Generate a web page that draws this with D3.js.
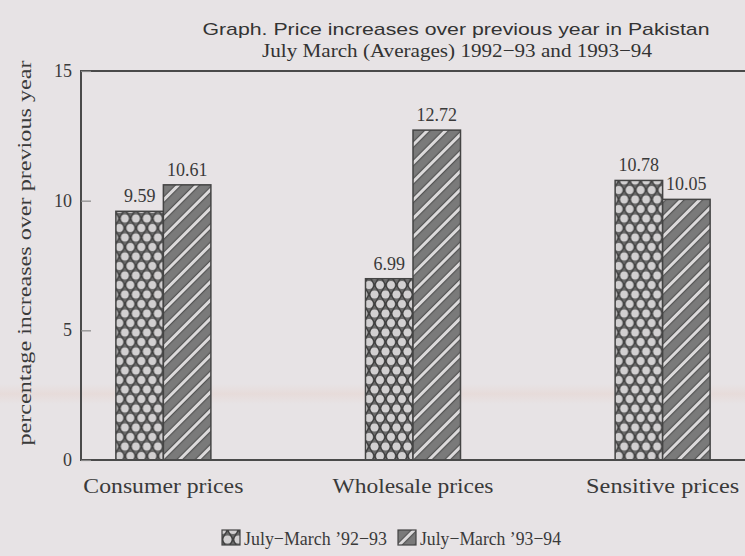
<!DOCTYPE html>
<html>
<head>
<meta charset="utf-8">
<script src="https://cdn.jsdelivr.net/npm/d3@7"></script>
<style>
  html, body { margin: 0; padding: 0; background: #e7e3e5; }
  svg { display: block; }
</style>
</head>
<body>
<svg id="chart" width="745" height="556"></svg>
<script>
// Price increases over previous year in Pakistan, July–March averages
const categories = ["Consumer prices", "Wholesale prices", "Sensitive prices"];
const series9293 = [9.59, 6.99, 10.78];
const series9394 = [10.61, 12.72, 10.05];
const seriesNames = ["July\u2212March \u201992\u221293", "July\u2212March \u201993\u221294"];
const yTicks = [0, 5, 10, 15];

const titleText = "Graph. Price increases over previous year in Pakistan";
const subtitleText = "July March (Averages) 1992\u221293 and 1993\u221294";
const yTitleText = "percentage increases over previous year";

const W = 745, H = 556;
const frame = { left: 81, top: 71, right: 745, bottom: 460 };
const serif = "'Liberation Serif', 'DejaVu Serif', serif";
const sans = "'Liberation Sans', Arial, sans-serif";
const ink = "#3a3a3a";

const svg = d3.select("#chart");

// ---- paper background with a faint tinted streak ----
svg.append("rect").attr("width", W).attr("height", H).attr("fill", "#e7e3e5");
const defs = svg.append("defs");
const streak = defs.append("linearGradient").attr("id", "streak")
  .attr("x1", 0).attr("x2", 0).attr("y1", 0).attr("y2", 1);
streak.append("stop").attr("offset", "0").attr("stop-color", "#e6c8bd").attr("stop-opacity", 0);
streak.append("stop").attr("offset", "0.5").attr("stop-color", "#e6c8bd").attr("stop-opacity", 0.28);
streak.append("stop").attr("offset", "1").attr("stop-color", "#e6c8bd").attr("stop-opacity", 0);
svg.append("rect").attr("x", 0).attr("y", 384).attr("width", W).attr("height", 20)
  .attr("fill", "url(#streak)");

// ---- fill patterns ----
// lattice of light dots between dark crossing lines, first series
const lattice = defs.append("pattern").attr("id", "lattice")
  .attr("patternUnits", "userSpaceOnUse").attr("width", 11).attr("height", 19);
lattice.append("rect").attr("width", 11).attr("height", 19).attr("fill", "#6a6a6a");
lattice.append("path")
  .attr("d", "M0,9.5L5.5,0L11,9.5L5.5,19Z")
  .attr("fill", "none").attr("stroke", "#3f3f3f").attr("stroke-width", 1.4);
[[0, 0], [11, 0], [0, 19], [11, 19], [5.5, 9.5]].forEach(([cx, cy]) =>
  lattice.append("circle").attr("cx", cx).attr("cy", cy).attr("r", 3.9).attr("fill", "#d2d0d1"));

// diagonal stripes for the second series
const stripes = defs.append("pattern").attr("id", "stripes")
  .attr("patternUnits", "userSpaceOnUse").attr("width", 13).attr("height", 13)
  .attr("patternTransform", "rotate(45)");
stripes.append("rect").attr("width", 13).attr("height", 13).attr("fill", "#7a7a7a");
stripes.append("rect").attr("x", 0).attr("width", 1.2).attr("height", 13).attr("fill", "#555");
stripes.append("rect").attr("x", 8.8).attr("width", 1.2).attr("height", 13).attr("fill", "#555");
stripes.append("rect").attr("x", 10).attr("width", 3).attr("height", 13).attr("fill", "#dcdadb");

const fills = ["url(#lattice)", "url(#stripes)"];

// ---- scales ----
const x = d3.scalePoint().domain(categories).range([frame.left, frame.right]).padding(0.33);
const sub = d3.scaleBand().domain([0, 1]).range([-47.5, 47.5]).padding(0);
const y = d3.scaleLinear().domain([0, 15]).range([frame.bottom, frame.top]);

// ---- titles ----
svg.append("text").attr("x", 456).attr("y", 35).attr("text-anchor", "middle")
  .attr("font-family", sans).attr("font-size", 17).attr("fill", "#333")
  .attr("textLength", 507).attr("lengthAdjust", "spacingAndGlyphs")
  .text(titleText);
svg.append("text").attr("x", 457).attr("y", 57).attr("text-anchor", "middle")
  .attr("font-family", serif).attr("font-size", 19).attr("fill", "#333")
  .attr("textLength", 390).attr("lengthAdjust", "spacingAndGlyphs")
  .text(subtitleText);

// ---- bars ----
const rows = categories.map((c, i) => ({ c, vals: [series9293[i], series9394[i]] }));
const groups = svg.append("g").selectAll("g").data(rows).join("g")
  .attr("transform", d => `translate(${x(d.c)},0)`);
groups.selectAll("rect").data(d => d.vals.map((v, k) => ({ v, k }))).join("rect")
  .attr("x", d => sub(d.k))
  .attr("y", d => y(d.v))
  .attr("width", sub.bandwidth())
  .attr("height", d => y(0) - y(d.v))
  .attr("fill", d => fills[d.k])
  .attr("stroke", "#444").attr("stroke-width", 1.5);
groups.selectAll("text").data(d => d.vals.map((v, k) => ({ v, k }))).join("text")
  .attr("x", d => sub(d.k) + sub.bandwidth() / 2)
  .attr("y", d => y(d.v) - 9)
  .attr("text-anchor", "middle")
  .attr("font-family", serif).attr("font-size", 18).attr("fill", ink)
  .text(d => d.v.toFixed(2));

// ---- frame (open on the right) ----
svg.append("path")
  .attr("d", `M${frame.right},${frame.top}H${frame.left}V${frame.bottom}H${frame.right}`)
  .attr("fill", "none").attr("stroke", "#4a4a4a").attr("stroke-width", 2);

// ---- y axis: inner ticks and labels ----
const yAxis = svg.append("g").attr("transform", `translate(${frame.left},0)`)
  .call(d3.axisRight(y).tickValues(yTicks).tickSize(10).tickFormat(""));
yAxis.select(".domain").remove();
yAxis.selectAll(".tick line").attr("stroke", "#888").attr("stroke-width", 1.2);
svg.append("g").selectAll("text").data(yTicks).join("text")
  .attr("x", 72).attr("y", d => y(d) + 6)
  .attr("text-anchor", "end")
  .attr("font-family", serif).attr("font-size", 18).attr("fill", ink)
  .text(d => d);

svg.append("text")
  .attr("transform", `translate(31,${253}) rotate(-90)`)
  .attr("text-anchor", "middle")
  .attr("font-family", serif).attr("font-size", 19).attr("fill", ink)
  .attr("textLength", 385).attr("lengthAdjust", "spacingAndGlyphs")
  .text(yTitleText);

// ---- x axis labels ----
const labelWidths = [160, 161, 153];
svg.append("g").selectAll("text").data(categories).join("text")
  .attr("x", d => x(d))
  .attr("y", 493)
  .attr("text-anchor", "middle")
  .attr("font-family", serif).attr("font-size", 21).attr("fill", ink)
  .attr("textLength", (d, i) => labelWidths[i]).attr("lengthAdjust", "spacingAndGlyphs")
  .text(d => d);

// ---- legend ----
const legendX = [222, 398];
const legendW = [143, 141];
const legend = svg.append("g").selectAll("g").data(seriesNames).join("g")
  .attr("transform", (d, i) => `translate(${legendX[i]},530)`);
legend.append("rect").attr("width", 18).attr("height", 15)
  .attr("fill", (d, i) => fills[i]).attr("stroke", "#444").attr("stroke-width", 1.2);
legend.append("text").attr("x", 22).attr("y", 15)
  .attr("font-family", serif).attr("font-size", 19).attr("fill", ink)
  .attr("textLength", (d, i) => legendW[i]).attr("lengthAdjust", "spacingAndGlyphs")
  .text(d => d);
</script>
</body>
</html>
